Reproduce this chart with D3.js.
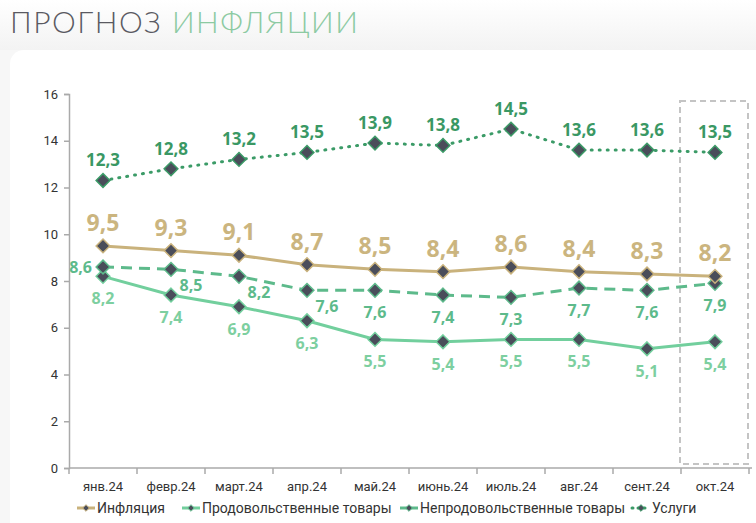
<!DOCTYPE html>
<html><head><meta charset="utf-8">
<script src="https://cdn.jsdelivr.net/npm/d3@7"></script>
<style>
body{margin:0;background:#f6f6f6;}
svg{display:block;}
</style></head>
<body><svg id="c" width="756" height="523"></svg>
<script>
const categories = ["янв.24","февр.24","март.24","апр.24","май.24","июнь.24","июль.24","авг.24","сент.24","окт.24"];
const inflation = [9.5,9.3,9.1,8.7,8.5,8.4,8.6,8.4,8.3,8.2];
const food = [8.2,7.4,6.9,6.3,5.5,5.4,5.5,5.5,5.1,5.4];
const nonfood = [8.6,8.5,8.2,7.6,7.6,7.4,7.3,7.7,7.6,7.9];
const services = [12.3,12.8,13.2,13.5,13.9,13.8,14.5,13.6,13.6,13.5];
const yTicks = [0,2,4,6,8,10,12,14,16];
const seriesNames = ["Инфляция","Продовольственные товары","Непродовольственные товары","Услуги"];
const nonfoodLabelPos = ["left","right","right","right","below","below","below","below","below","below"];

const svg = d3.select("#c");
const defs = svg.append("defs");
const grad = defs.append("linearGradient").attr("id","sh").attr("x1",0).attr("y1",0).attr("x2",0).attr("y2",1);
grad.append("stop").attr("offset","0").attr("stop-color","#ffffff");
grad.append("stop").attr("offset","1").attr("stop-color","#f3f3f3");
svg.append("rect").attr("x",0).attr("y",0).attr("width",756).attr("height",523).attr("fill","#f7f7f7");
svg.append("rect").attr("x",0).attr("y",0).attr("width",756).attr("height",50).attr("fill","url(#sh)");
svg.append("rect").attr("x",10).attr("y",50).attr("width",800).attr("height",520).attr("rx",14).attr("fill","#ffffff");

const title = svg.append("text").attr("x",10).attr("y",33)
  .attr("font-family","Lato, 'Open Sans', sans-serif").attr("font-size",30).attr("font-weight",300)
  .attr("letter-spacing",1.5);
title.append("tspan").attr("fill","#5a5a62").text("ПРОГНОЗ ");
title.append("tspan").attr("fill","#8ccaa2").text("ИНФЛЯЦИИ");

const x = d3.scaleBand().domain(categories).range([69,749]);
const y = d3.scaleLinear().domain([0,16]).range([468,94]);
const cx = d => x(d) + x.bandwidth()/2;

// dashed highlight box
svg.append("rect").attr("x",x("окт.24")-1).attr("y",101).attr("width",x.bandwidth()).attr("height",363)
  .attr("fill","none").attr("stroke","#c4c4c4").attr("stroke-width",2).attr("stroke-dasharray","6,4");

// y axis
const ya = svg.append("g").attr("transform","translate(69,0)")
  .call(d3.axisLeft(y).tickValues(yTicks).tickSize(5).tickPadding(6));
ya.select(".domain").attr("stroke","#aaaaaa").attr("stroke-width",1.5);
ya.selectAll(".tick line").attr("stroke","#aaaaaa").attr("stroke-width",1.5);
ya.selectAll("text").attr("font-family","Roboto, sans-serif").attr("font-size",13).attr("fill","#333");

// x axis
const xa = svg.append("g").attr("transform","translate(0,468)")
  .call(d3.axisBottom(x).tickSize(0).tickPadding(14));
xa.select(".domain").attr("stroke","#aaaaaa").attr("stroke-width",1.5).attr("d","M69,0H752");
xa.selectAll("text").attr("font-family","Roboto, sans-serif").attr("font-size",13).attr("fill","#333");
xa.selectAll(".bound").data(d3.range(categories.length+1)).enter().append("line")
  .attr("x1",i=>69+i*x.bandwidth()).attr("x2",i=>69+i*x.bandwidth()).attr("y1",0).attr("y2",6)
  .attr("stroke","#aaaaaa").attr("stroke-width",1.5);

const line = d3.line().x((d,i)=>cx(categories[i])).y(d=>y(d));
const marker = d3.symbol().type(d3.symbolDiamond2).size(120);

const series = [
  {name:seriesNames[0], data:inflation, color:"#c9b27c", dash:null, lc:"#cbb57f"},
  {name:seriesNames[1], data:food, color:"#72cf9d", dash:null, lc:"#7dcfa0"},
  {name:seriesNames[2], data:nonfood, color:"#5dba8b", dash:"11,7", lc:"#5dba8b"},
  {name:seriesNames[3], data:services, color:"#3b9b67", dash:"1,7", lc:"#3a9864"}
];

function drawSeries(s){
  const g = svg.append("g");
  g.append("path").attr("d",line(s.data)).attr("fill","none").attr("stroke",s.color)
    .attr("stroke-width",3).attr("stroke-dasharray",s.dash).attr("stroke-linecap",s.dash==="1,7"?"round":"butt");
  g.selectAll("path.m").data(s.data).enter().append("path").attr("class","m")
    .attr("d",marker).attr("transform",(d,i)=>`translate(${cx(categories[i])},${y(d)})`)
    .attr("fill","#4a4d5a").attr("stroke",s.color).attr("stroke-width",1.5);
  return g;
}
const gFood = drawSeries(series[1]);
const gNon = drawSeries(series[2]);
const gInf = drawSeries(series[0]);
const gSrv = drawSeries(series[3]);

const fmt = v => String(v).replace(".",",");
const lblFont = "'Open Sans', 'Noto Sans', sans-serif";

svg.selectAll(".li").data(inflation).enter().append("text")
  .attr("x",(d,i)=>cx(categories[i])).attr("y",d=>y(d)-15).attr("text-anchor","middle")
  .attr("font-family",lblFont).attr("font-size",23).attr("font-weight",700).attr("fill","#cbb57f")
  .text(fmt);
svg.selectAll(".ls").data(services).enter().append("text")
  .attr("x",(d,i)=>cx(categories[i])).attr("y",d=>y(d)-14).attr("text-anchor","middle")
  .attr("font-family",lblFont).attr("font-size",17).attr("font-weight",700).attr("fill","#3a9864")
  .text(fmt);
svg.selectAll(".lf").data(food).enter().append("text")
  .attr("x",(d,i)=>cx(categories[i])).attr("y",d=>y(d)+28).attr("text-anchor","middle")
  .attr("font-family",lblFont).attr("font-size",16).attr("font-weight",700).attr("fill","#7dcfa0")
  .text(fmt);
svg.selectAll(".ln").data(nonfood).enter().append("text")
  .attr("x",(d,i)=>{const p=nonfoodLabelPos[i]; return cx(categories[i]) + (p==="left"?-11:p==="right"?20:0);})
  .attr("y",(d,i)=>{const p=nonfoodLabelPos[i]; return y(d) + (p==="left"?6:p==="right"?22:28);})
  .attr("text-anchor",(d,i)=>nonfoodLabelPos[i]==="left"?"end":"middle")
  .attr("font-family",lblFont).attr("font-size",16).attr("font-weight",700).attr("fill","#5dba8b")
  .text(fmt);

const legX = [77,182,400,632];
const leg = svg.append("g");
series.forEach((s,i)=>{
  const g = leg.append("g").attr("transform",`translate(${legX[i]},508)`);
  g.append("line").attr("x1",0).attr("x2",18).attr("y1",0).attr("y2",0).attr("stroke",s.color)
    .attr("stroke-width",3).attr("stroke-dasharray",i===3?"1,5":null).attr("stroke-linecap",i===3?"round":"butt");
  g.append("path").attr("d",d3.symbol().type(d3.symbolDiamond2).size(28)).attr("transform","translate(9,0)")
    .attr("fill","#4a4d5a").attr("stroke",s.color).attr("stroke-width",1);
  g.append("text").attr("x",20).attr("y",5).attr("font-family","Roboto, sans-serif").attr("font-size",14)
    .attr("fill","#333").text(s.name);
});
</script></body></html>
